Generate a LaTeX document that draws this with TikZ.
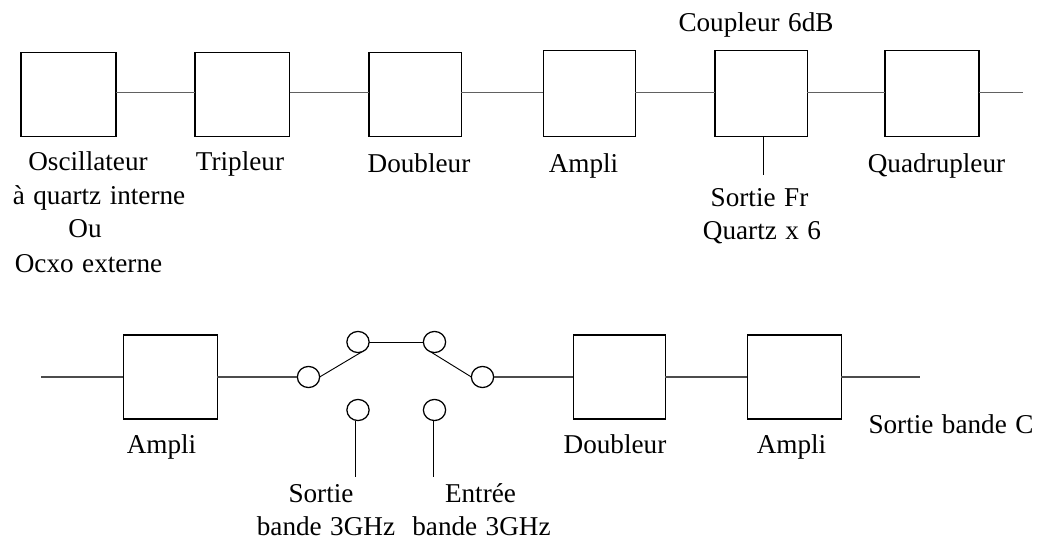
\documentclass[tikz,border=0pt]{standalone}
\usepackage{fontspec}
\usetikzlibrary{shapes.geometric}
\setmainfont[WordSpace=1.25]{Liberation Serif}
\newcommand{\pxl}{0.0265cm}
\newcommand{\pbox}[5]{\node[blk,minimum width={(#4-#2)*0.0265cm},minimum height={(#5-#3)*0.0265cm}] (#1) at ({(#2+#4)/2},{(#3+#5)/2}) {};}
\tikzset{x=\pxl,y=-\pxl,
 blk/.style={draw=black,line width=1.05pt,inner sep=0pt,outer sep=0pt},
 wire/.style={draw=black!62,line width=1pt},
 wirelow/.style={draw=black!70,line width=0.8pt},
 lead/.style={draw=black,line width=0.7pt},
 sw/.style={draw=black,ellipse,line width=0.95pt,fill=white,minimum width=0.59cm,minimum height=0.56cm,inner sep=0pt,outer sep=0pt},
 lbl/.style={font=\fontsize{20.5pt}{25pt}\selectfont,anchor=base,inner sep=0pt,text=black}}
\begin{document}
\begin{tikzpicture}
\useasboundingbox (0,0) rectangle (1047,539);
\coordinate (wt) at (0,92.7);
\coordinate (wb) at (0,377);
\pbox{a1}{21}{52.7}{116}{136.7}
\pbox{a2}{195}{52.7}{289.7}{136.7}
\pbox{a3}{369}{52.7}{461.3}{136.7}
\pbox{a4}{543.3}{50.7}{635.3}{136.7}
\pbox{a5}{715}{50.7}{807.3}{136.7}
\pbox{a6}{885}{50.7}{979}{136.7}
\coordinate (aout) at (1023,92.7);
\coordinate (t5) at (763.3,175);
\draw[wire] (a1.east|-wt)--(a2.west|-wt);
\draw[wire] (a2.east|-wt)--(a3.west|-wt);
\draw[wire] (a3.east|-wt)--(a4.west|-wt);
\draw[wire] (a4.east|-wt)--(a5.west|-wt);
\draw[wire] (a5.east|-wt)--(a6.west|-wt);
\draw[wire] (a6.east|-wt)--(aout);
\draw[lead] (a5.south-|t5)--(t5);
\pbox{b1}{123.3}{335}{217.3}{419}
\pbox{b2}{573.3}{335}{665.3}{419}
\pbox{b3}{747.3}{335}{841.3}{419}
\coordinate (bin) at (41,377);
\coordinate (bout) at (920,377);
\node[sw] (s1) at (308.5,377) {};
\node[sw] (s2) at (358,342) {};
\node[sw] (s3) at (434.5,342) {};
\node[sw] (s4) at (482.5,377) {};
\node[sw] (s5) at (358,410) {};
\node[sw] (s6) at (434.5,410) {};
\coordinate (l5) at (355.7,477);
\coordinate (l6) at (433.3,477);
\draw[wirelow] (bin)--(b1.west|-wb);
\draw[wirelow] (b1.east|-wb)--(s1);
\draw[wirelow] (s4)--(b2.west|-wb);
\draw[wirelow] (b2.east|-wb)--(b3.west|-wb);
\draw[wirelow] (b3.east|-wb)--(bout);
\draw[lead] (s1.east)--(s2.290);
\draw[lead] (s2)--(s3);
\draw[lead] (s3.250)--(s4.west);
\draw[lead] (s5.south-|l5)--(l5);
\draw[lead] (s6.south-|l6)--(l6);
\node[lbl] (n0) at (756,32) {Coupleur 6dB};
\node[lbl] (n1a) at (88,171) {Oscillateur};
\node[lbl] (n1b) at (99,204) {à quartz interne};
\node[lbl] (n1c) at (85,237) {Ou};
\node[lbl] (n1d) at (88.5,272) {Ocxo externe};
\node[lbl] (n2) at (240,171) {Tripleur};
\node[lbl] (n3) at (419,172) {Doubleur};
\node[lbl] (n4) at (583.5,172) {Ampli};
\node[lbl] (n5a) at (759.5,206) {Sortie Fr};
\node[lbl] (n5b) at (762,239) {Quartz x 6};
\node[lbl] (n6) at (936.5,172) {Quadrupleur};
\node[lbl] (n7) at (161.5,453) {Ampli};
\node[lbl] (n8) at (615,453) {Doubleur};
\node[lbl] (n9) at (791.5,453) {Ampli};
\node[lbl] (n10) at (951,433) {Sortie bande C};
\node[lbl] (n11a) at (321,502) {Sortie};
\node[lbl] (n11b) at (326,535) {bande 3GHz};
\node[lbl] (n12a) at (480.5,502) {Entrée};
\node[lbl] (n12b) at (481.5,535) {bande 3GHz};
\end{tikzpicture}
\end{document}
